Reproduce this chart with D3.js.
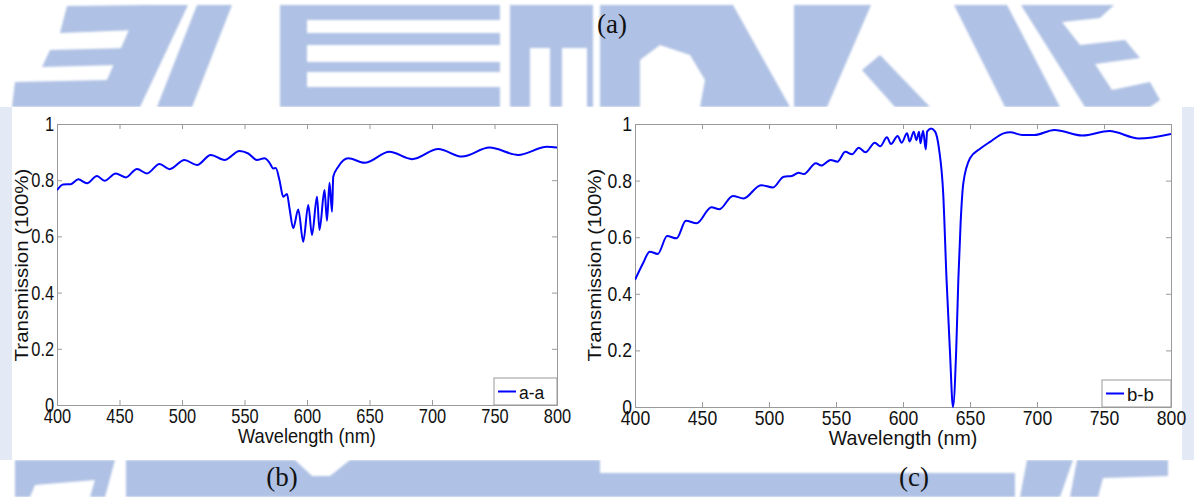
<!DOCTYPE html>
<html>
<head>
<meta charset="utf-8">
<script src="https://cdn.jsdelivr.net/npm/d3@7"></script>
<style>
  body { margin: 0; background: #fff; }
  svg { display: block; }
</style>
</head>
<body>
<svg id="fig"></svg>
<script>
// ---------- data ----------
const wavelengthA = [400, 405, 411, 417, 424, 432, 438, 447, 455, 464, 472, 482, 490, 502, 512, 523, 534, 546, 553,
  560, 566, 570, 573, 575, 578, 581, 584, 586, 589, 593, 597, 601, 604, 608, 610, 614, 616, 618, 620, 621,
  625, 633, 646, 666, 684, 705, 724, 746, 769, 792, 800];
const transA = [0.765, 0.785, 0.786, 0.803, 0.789, 0.815, 0.798, 0.824, 0.810, 0.840, 0.824, 0.858, 0.839, 0.872, 0.854, 0.890, 0.872, 0.904, 0.895,
  0.872, 0.878, 0.862, 0.842, 0.843, 0.800, 0.741, 0.751, 0.700, 0.629, 0.696, 0.581, 0.712, 0.605, 0.741, 0.623, 0.765, 0.656, 0.791, 0.688, 0.812,
  0.848, 0.878, 0.862, 0.901, 0.875, 0.911, 0.884, 0.916, 0.890, 0.919, 0.916];

const wavelengthB = [400, 406, 411, 417, 424, 431, 438, 446, 457, 463, 473, 481, 494, 503, 511, 517, 522, 526, 535, 539,
  546, 551, 557, 562, 567, 572, 579, 583, 588, 591, 596, 599, 603, 605, 608, 610, 612, 613, 615, 617, 618, 621, 624,
  627, 630, 632.5, 635, 637.3, 639.7, 641.3, 643, 645, 650, 658, 665, 675, 680, 689, 698, 713, 734, 754, 776, 800];
const transB = [0.449, 0.508, 0.549, 0.541, 0.604, 0.596, 0.658, 0.649, 0.706, 0.699, 0.746, 0.737, 0.784, 0.776, 0.814, 0.816, 0.828, 0.823, 0.861, 0.853,
  0.873, 0.867, 0.902, 0.893, 0.916, 0.900, 0.934, 0.921, 0.953, 0.929, 0.958, 0.934, 0.967, 0.938, 0.973, 0.943, 0.973, 0.932, 0.976, 0.910, 0.973, 0.984, 0.973,
  0.908, 0.755, 0.450, 0.200, 0.000, 0.200, 0.450, 0.650, 0.790, 0.879, 0.914, 0.937, 0.967, 0.971, 0.961, 0.961, 0.979, 0.959, 0.975, 0.949, 0.965];

const xTicks = [400, 450, 500, 550, 600, 650, 700, 750, 800];
const yTicks = [0, 0.2, 0.4, 0.6, 0.8, 1];
const seriesNames = ["a-a", "b-b"];
const subLabels = ["(a)", "(b)", "(c)"];

// ---------- page ----------
const W = 1194, H = 497;
const svg = d3.select("#fig").attr("width", W).attr("height", H);

// soft blur for the watermark
svg.append("defs").append("filter").attr("id", "soft")
  .append("feGaussianBlur").attr("stdDeviation", 1.3);

// faint watermark behind the figure
const wm = svg.append("g").attr("fill", "#afc1e4").attr("filter", "url(#soft)");
const wmShapes = [
  // top strip
  [[140, 5], [188, 5], [140, 107], [95, 107]],
  [[67, 6], [150, 5], [136, 30], [60, 33]],
  [[50, 50], [128, 48], [117, 65], [42, 67]],
  [[15, 82], [108, 80], [98, 107], [12, 107]],
  [[197, 5], [232, 5], [192, 107], [157, 107]],
  [[280, 5], [500, 5], [500, 20], [307, 20], [307, 33], [500, 33], [500, 45], [307, 45], [307, 62], [500, 62],
   [500, 72], [307, 72], [307, 87], [500, 87], [500, 107], [280, 107]],
  [[510, 5], [593, 5], [593, 48], [510, 48]],
  [[510, 48], [530, 48], [530, 107], [510, 107]],
  [[550, 48], [562, 48], [562, 107], [550, 107]],
  [[587, 48], [593, 48], [593, 107], [587, 107]],
  [[600, 5], [733, 5], [790, 107], [700, 107], [705, 80], [690, 55], [660, 45], [640, 60], [640, 107], [600, 107]],
  [[794, 5], [871, 5], [827, 107], [794, 107]],
  [[862, 70], [880, 55], [930, 107], [895, 107]],
  [[954, 5], [1007, 5], [1060, 107], [1005, 107]],
  [[1021, 5], [1114, 5], [1100, 18], [1062, 22], [1080, 45], [1125, 40], [1140, 58], [1095, 64], [1112, 90], [1150, 82],
   [1160, 100], [1150, 107], [1085, 107]],
  // bottom strip
  [[15, 460], [115, 460], [105, 497], [90, 497], [95, 480], [35, 485], [30, 497], [15, 497]],
  [[126, 460], [295, 460], [312, 476], [330, 476], [350, 460], [600, 460], [600, 497], [126, 497]],
  [[600, 473], [1015, 473], [1015, 497], [600, 497]],
  [[1027, 460], [1073, 460], [1060, 497], [1020, 497]],
  [[1077, 460], [1168, 460], [1168, 476], [1103, 478], [1098, 497], [1070, 497]]
];
wm.selectAll("polygon").data(wmShapes).join("polygon")
  .attr("points", d => d.map(p => p.join(",")).join(" "));
// faint strips down the left and right edges
svg.append("rect").attr("x", 0).attr("y", 107).attr("width", 12).attr("height", 353).attr("fill", "#e4eaf5");
svg.append("rect").attr("x", 1182).attr("y", 107).attr("width", 12).attr("height", 353).attr("fill", "#e4eaf5");

// white figure area
svg.append("rect").attr("x", 12).attr("y", 107).attr("width", 1170).attr("height", 353).attr("fill", "#fff");

// sub-figure captions
const capPos = [[612, 33], [282, 486], [914, 486]];
svg.selectAll("text.cap").data(subLabels).join("text")
  .attr("class", "cap")
  .attr("x", (d, i) => capPos[i][0])
  .attr("y", (d, i) => capPos[i][1])
  .attr("text-anchor", "middle")
  .attr("font-family", "'Liberation Serif', 'Times New Roman', serif")
  .attr("font-size", 27)
  .attr("fill", "#111")
  .text(d => d);

// ---------- panels ----------
const panels = [
  { wl: wavelengthA, t: transA, name: seriesNames[0], left: 57, right: 557, top: 124, bottom: 405,
    sx: 0.82, labSx: 0.91, ylabX: 28, leg: { x: 494, y: 378, w: 63, h: 27 } },
  { wl: wavelengthB, t: transB, name: seriesNames[1], left: 635, right: 1171, top: 124, bottom: 407,
    sx: 0.88, labSx: 0.98, ylabX: 601, leg: { x: 1102, y: 380, w: 69, h: 27 } }
];

const fontSans = "'Liberation Sans', Arial, Helvetica, sans-serif";
const axisGrey = "#9a9a9a";

panels.forEach((p, i) => {
  const x = d3.scaleLinear().domain([400, 800]).range([p.left, p.right]);
  const y = d3.scaleLinear().domain([0, 1]).range([p.bottom, p.top]);
  const g = svg.append("g");

  // box with inward ticks on all four sides
  const styleAxis = sel => {
    sel.select(".domain").attr("stroke", axisGrey);
    sel.selectAll(".tick line").attr("stroke", axisGrey);
    sel.selectAll("text").attr("font-family", fontSans).attr("font-size", 20).attr("fill", "#111")
      .attr("transform", `scale(${p.sx},1)`);
  };

  g.append("g").attr("transform", `translate(0,${p.bottom})`)
    .call(d3.axisBottom(x).tickValues(xTicks).tickSizeInner(-5).tickSizeOuter(0).tickPadding(4))
    .call(styleAxis);
  g.append("g").attr("transform", `translate(0,${p.top})`)
    .call(d3.axisTop(x).tickValues(xTicks).tickSizeInner(-5).tickSizeOuter(0).tickFormat(""))
    .call(styleAxis);
  g.append("g").attr("transform", `translate(${p.left},0)`)
    .call(d3.axisLeft(y).tickValues(yTicks).tickSizeInner(-5).tickSizeOuter(0).tickPadding(3.5).tickFormat(d3.format("~g")))
    .call(styleAxis);
  g.append("g").attr("transform", `translate(${p.right},0)`)
    .call(d3.axisRight(y).tickValues(yTicks).tickSizeInner(-5).tickSizeOuter(0).tickFormat(""))
    .call(styleAxis);

  // axis titles
  g.append("text")
    .attr("transform", `translate(${(p.left + p.right) / 2},${p.bottom + 38}) scale(${p.labSx},1)`)
    .attr("text-anchor", "middle")
    .attr("font-family", fontSans).attr("font-size", 20).attr("fill", "#111")
    .text("Wavelength (nm)");
  g.append("text")
    .attr("transform", `translate(${p.ylabX},265) scale(0.85,1) rotate(-90)`)
    .attr("text-anchor", "middle")
    .attr("font-family", fontSans).attr("font-size", 20.5).attr("fill", "#111")
    .text("Transmission (100%)");

  // curve
  const clipId = "clip" + i;
  svg.append("clipPath").attr("id", clipId)
    .append("rect").attr("x", p.left).attr("y", p.top - 2)
    .attr("width", p.right - p.left).attr("height", p.bottom - p.top + 3);
  const pts = p.wl.map((w, k) => [w, p.t[k]]);
  g.append("path")
    .datum(pts)
    .attr("clip-path", `url(#${clipId})`)
    .attr("fill", "none")
    .attr("stroke", "#0000ff")
    .attr("stroke-width", 2)
    .attr("stroke-linejoin", "round")
    .attr("d", d3.line().x(d => x(d[0])).y(d => y(d[1])).curve(d3.curveMonotoneX));

  // legend
  const lg = g.append("g");
  lg.append("rect").attr("x", p.leg.x).attr("y", p.leg.y).attr("width", p.leg.w).attr("height", p.leg.h)
    .attr("fill", "#fff").attr("stroke", axisGrey);
  lg.append("line")
    .attr("x1", p.leg.x + 4).attr("x2", p.leg.x + 22)
    .attr("y1", p.leg.y + p.leg.h / 2).attr("y2", p.leg.y + p.leg.h / 2)
    .attr("stroke", "#0000ff").attr("stroke-width", 2);
  lg.append("text")
    .attr("transform", `translate(${p.leg.x + 25},${p.leg.y + p.leg.h / 2 + 7}) scale(${p.sx + 0.1},1)`)
    .attr("font-family", fontSans).attr("font-size", 19).attr("fill", "#111")
    .text(p.name);
});
</script>
</body>
</html>
